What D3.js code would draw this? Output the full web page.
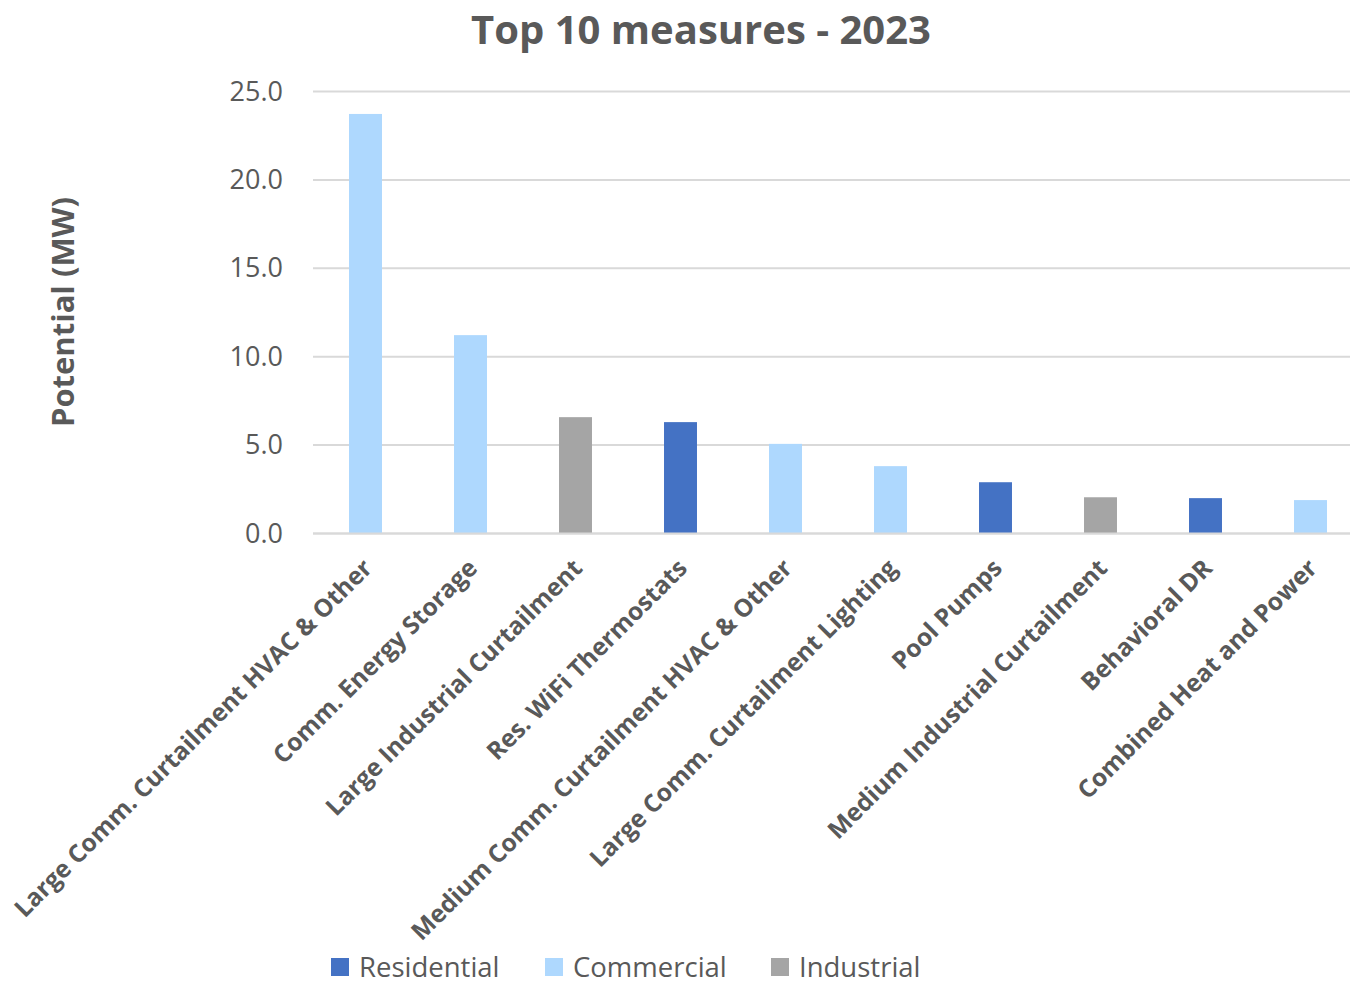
<!DOCTYPE html>
<html>
<head>
<meta charset="utf-8">
<script src="https://cdn.jsdelivr.net/npm/d3@7"></script>
<style>
  html, body { margin: 0; padding: 0; background: #fff; }
  svg { display: block; font-family: "Open Sans", sans-serif; }
</style>
</head>
<body>
<svg id="chart" width="1350" height="985"></svg>
<script>
// Demand-response potential by measure, 2023 (MW)
const measures = [
  "Large Comm. Curtailment HVAC & Other",
  "Comm. Energy Storage",
  "Large Industrial Curtailment",
  "Res. WiFi Thermostats",
  "Medium Comm. Curtailment HVAC & Other",
  "Large Comm. Curtailment Lighting",
  "Pool Pumps",
  "Medium Industrial Curtailment",
  "Behavioral DR",
  "Combined Heat and Power"
];
const potential = [23.73, 11.22, 6.58, 6.30, 5.07, 3.81, 2.90, 2.05, 2.00, 1.89];
const sector = ["Commercial", "Commercial", "Industrial", "Residential", "Commercial",
                "Commercial", "Residential", "Industrial", "Residential", "Commercial"];
const sectors = ["Residential", "Commercial", "Industrial"];
const sectorColors = ["#4472c4", "#aed8fe", "#a5a5a5"];
const yTicks = [0, 5, 10, 15, 20, 25];

const textColor = "#595959";
const gridColor = "#d9d9d9";

const svg = d3.select("#chart");
const margin = { left: 313, top: 91.5, bottom: 533.5 };
const plotRight = margin.left + 1050;

const x = d3.scaleBand()
  .domain(measures)
  .range([margin.left, plotRight])
  .paddingInner(0.686)
  .paddingOuter(0.343);

const y = d3.scaleLinear().domain([0, 25]).range([margin.bottom, margin.top]);
const color = d3.scaleOrdinal().domain(sectors).range(sectorColors);

// Title
svg.append("text")
  .attr("x", 701)
  .attr("y", 44)
  .attr("text-anchor", "middle")
  .attr("font-size", 40)
  .attr("font-weight", 700)
  .attr("fill", textColor)
  .text("Top 10 measures - 2023");

// Horizontal gridlines
svg.append("g")
  .selectAll("line")
  .data(yTicks)
  .join("line")
  .attr("x1", margin.left)
  .attr("x2", plotRight)
  .attr("y1", d => y(d))
  .attr("y2", d => y(d))
  .attr("stroke", gridColor)
  .attr("stroke-width", 2);

// Y axis labels
const yAxis = svg.append("g")
  .attr("transform", `translate(${margin.left},0)`)
  .call(d3.axisLeft(y).tickValues(yTicks).tickFormat(d3.format(".1f")).tickSize(0).tickPadding(30));
yAxis.select(".domain").remove();
yAxis.selectAll("text")
  .attr("font-family", "'Open Sans', sans-serif")
  .attr("font-size", 27)
  .attr("fill", textColor);

// Y axis title
svg.append("text")
  .attr("transform", `translate(74,312) rotate(-90)`)
  .attr("text-anchor", "middle")
  .attr("font-size", 31)
  .attr("font-weight", 700)
  .attr("fill", textColor)
  .text("Potential (MW)");

// Bars
svg.append("g")
  .selectAll("rect")
  .data(measures)
  .join("rect")
  .attr("x", d => x(d))
  .attr("width", x.bandwidth())
  .attr("y", (d, i) => y(potential[i]))
  .attr("height", (d, i) => y(0) - y(potential[i]))
  .attr("fill", (d, i) => color(sector[i]));

// Baseline
svg.append("line")
  .attr("x1", margin.left).attr("x2", plotRight)
  .attr("y1", y(0)).attr("y2", y(0))
  .attr("stroke", gridColor).attr("stroke-width", 2);

// Category labels, rotated
svg.append("g")
  .selectAll("text")
  .data(measures)
  .join("text")
  .attr("transform", d => `translate(${x(d) + x.bandwidth() / 2 - 4},${y(0) + 24}) rotate(-45)`)
  .attr("text-anchor", "end")
  .attr("dy", "0.7em")
  .attr("font-size", 24.6)
  .attr("font-weight", 700)
  .attr("fill", textColor)
  .text(d => d);

// Legend
const legendItems = [
  { name: "Residential", x: 331 },
  { name: "Commercial", x: 545 },
  { name: "Industrial", x: 771 }
];
const legend = svg.append("g")
  .selectAll("g")
  .data(legendItems)
  .join("g")
  .attr("transform", d => `translate(${d.x},958)`);
legend.append("rect")
  .attr("width", 18).attr("height", 18)
  .attr("fill", d => color(d.name));
legend.append("text")
  .attr("x", 28)
  .attr("y", 9)
  .attr("dy", "0.36em")
  .attr("font-size", 27.5)
  .attr("fill", textColor)
  .text(d => d.name);
</script>
</body>
</html>
